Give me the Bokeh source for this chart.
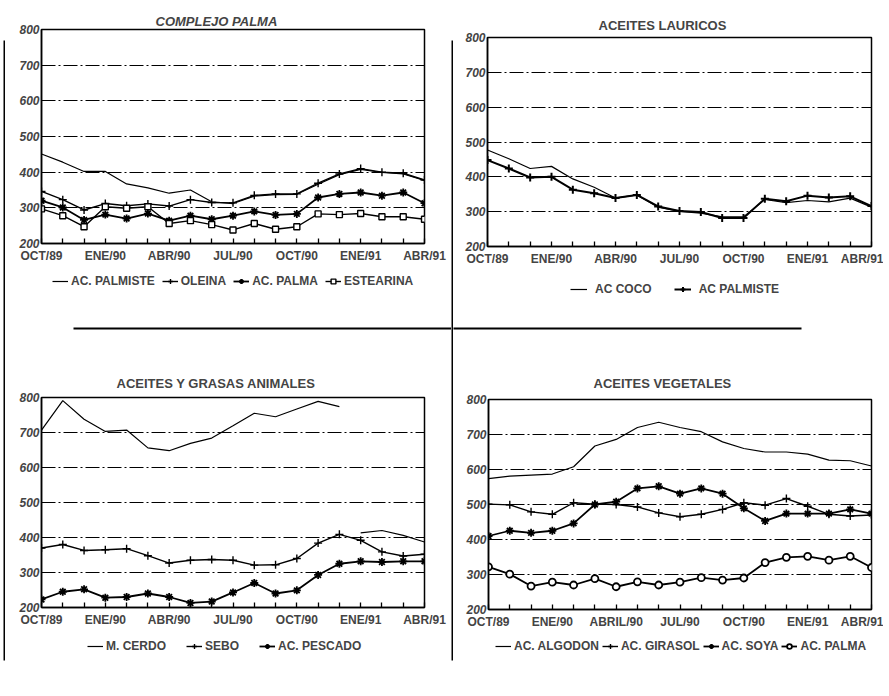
from bokeh.plotting import figure
from bokeh.models import FixedTicker, Legend, LegendItem
from bokeh.layouts import row, column
from bokeh.embed import file_html
from bokeh.resources import INLINE

# ---------------- data ----------------
months = ["OCT/89", "NOV/89", "DIC/89", "ENE/90", "FEB/90", "MAR/90", "ABR/90",
          "MAY/90", "JUN/90", "JUL/90", "AGO/90", "SEP/90", "OCT/90", "NOV/90",
          "DIC/90", "ENE/91", "FEB/91", "MAR/91", "ABR/91"]
tick_months = ["OCT/89", "ENE/90", "ABR/90", "JUL/90", "OCT/90", "ENE/91", "ABR/91"]
tick_labels_std = ["OCT/89", "ENE/90", "ABR/90", "JUL/90", "OCT/90", "ENE/91", "ABR/91"]
tick_labels_veg = ["OCT/89", "ENE/90", "ABRIL/90", "JUL/90", "OCT/90", "ENE/91", "ABR/91"]
y_ticks = [200, 300, 400, 500, 600, 700, 800]

# COMPLEJO PALMA
cp_palmiste = [451, 428, 402, 402, 367, 356, 341, 350, 317, 312, 333, 337, 338, 366, 393, 408, 399, 395, 377]
cp_oleina = [346, 323, 294, 312, 306, 311, 305, 323, 315, 314, 335, 339, 339, 369, 395, 410, 400, 397, 378]
cp_palma = [320, 301, 266, 281, 270, 284, 264, 278, 268, 278, 290, 280, 283, 329, 339, 343, 334, 343, 313]
cp_estearina = [297, 278, 247, 303, 299, 303, 256, 264, 253, 238, 256, 240, 247, 283, 281, 284, 275, 275, 268]

# ACEITES LAURICOS
la_coco = [477, 452, 424, 430, 394, 370, 339, 348, 313, 301, 296, 285, 285, 335, 326, 332, 328, 339, 313]
la_palmiste = [448, 424, 398, 400, 363, 353, 339, 348, 315, 302, 299, 282, 282, 337, 330, 346, 341, 344, 316]

# ACEITES Y GRASAS ANIMALES
an_cerdo = [707, 791, 738, 703, 707, 656, 648, 669, 684, 719, 755, 745, 767, 789, 774, 413, 420, 406, 387]
an_cerdo_break = "ENE/91"
an_sebo = [370, 380, 363, 365, 368, 348, 327, 335, 337, 335, 321, 322, 340, 384, 409, 392, 359, 347, 352]
an_pescado = [223, 245, 252, 228, 230, 240, 230, 213, 217, 243, 270, 240, 249, 293, 325, 332, 330, 332, 332]

# ACEITES VEGETALES
ve_algodon = [574, 581, 584, 587, 608, 667, 686, 720, 735, 720, 708, 679, 660, 650, 650, 644, 627, 625, 610]
ve_girasol = [501, 499, 479, 472, 505, 501, 500, 493, 476, 465, 472, 486, 505, 498, 517, 495, 472, 467, 470]
ve_soya = [410, 425, 419, 425, 446, 500, 508, 546, 552, 531, 546, 531, 489, 453, 474, 474, 474, 486, 474]
ve_palma = [322, 301, 267, 278, 270, 288, 265, 279, 270, 278, 291, 284, 290, 334, 349, 352, 341, 352, 320]

# ---------------- styling ----------------
FONT = "Liberation Sans"
STYLES = {
    "plain": dict(marker=None, lw=1.2),
    "cross": dict(marker="cross", lw=1.4, size=8, fill="black"),
    "star": dict(marker="asterisk", lw=1.8, size=8, fill="black"),
    "square": dict(marker="square", lw=1.4, size=6, fill="white"),
    "circle": dict(marker="circle", lw=1.8, size=7, fill="white"),
    "crossbold": dict(marker="cross", lw=2.0, size=8, fill="black"),
}

x = list(range(len(months)))


def bare(width, height, bl=0, br=0, bt=0, bb=0, frame="white", border="white"):
    f = figure(width=width, height=height, x_range=(0, 1), y_range=(0, 1),
               output_backend="svg", toolbar_location=None,
               x_axis_type=None, y_axis_type=None,
               min_border_left=bl, min_border_right=br,
               min_border_top=bt, min_border_bottom=bb,
               background_fill_color=frame, border_fill_color=border,
               outline_line_color=None)
    f.grid.visible = False
    return f


def make_panel(title, italic, series, tick_labels, width, height, bl, br, bt, bb,
               title_off, title_standoff, leg_height, leg_loc, leg_spacing, leg_glyph, leg_standoff):
    p = figure(width=width, height=height, x_range=(0, len(months) - 1), y_range=(200, 800),
               output_backend="svg", toolbar_location=None,
               min_border_left=bl, min_border_right=br, min_border_top=bt, min_border_bottom=bb,
               background_fill_color="white", border_fill_color="white",
               outline_line_color="black", outline_line_width=1.5)
    p.title.text = title
    p.title.align = "left"
    p.title.offset = title_off
    p.title.standoff = title_standoff
    p.title.text_font = FONT
    p.title.text_font_size = "13px"
    p.title.text_font_style = "bold italic" if italic else "bold"

    overrides = {}
    for i, m in enumerate(months):
        overrides[i] = tick_labels[tick_months.index(m)] if m in tick_months else ""
    xa = p.xaxis[0]
    xa.ticker = FixedTicker(ticks=x)
    xa.major_label_overrides = overrides
    xa.minor_tick_line_color = None
    xa.major_tick_in = 5
    xa.major_tick_out = 0
    xa.major_tick_line_width = 1.3
    xa.axis_line_width = 1.5
    xa.major_label_standoff = 5
    xa.major_label_text_font = FONT
    xa.major_label_text_font_size = "12px"
    xa.major_label_text_font_style = "bold"

    ya = p.yaxis[0]
    ya.ticker = FixedTicker(ticks=y_ticks)
    ya.minor_tick_line_color = None
    ya.major_tick_in = 0
    ya.major_tick_out = 0
    ya.axis_line_width = 1.5
    ya.major_label_standoff = 2
    ya.major_label_text_font = FONT
    ya.major_label_text_font_size = "12px"
    ya.major_label_text_font_style = "bold italic"

    p.xgrid.visible = False
    p.ygrid.ticker = FixedTicker(ticks=y_ticks)
    p.ygrid.grid_line_color = "black"
    p.ygrid.grid_line_dash = "14 3 2 3"
    p.ygrid.grid_line_width = 1

    # legend strip under the panel; its key renderers carry the same series
    # (they fall outside the strip's 0..1 ranges, so only the legend keys show)
    lg = bare(width, leg_height, bl=bl, br=br)
    items = []
    for name, vals, style, brk in series:
        st = STYLES[style]
        if brk is None:
            segs = [(0, len(vals))]
        else:
            k = months.index(brk)
            segs = [(0, k), (k, len(vals))]
        for a, b in segs:
            p.line(x[a:b], vals[a:b], line_color="black", line_width=st["lw"])
        if st["marker"]:
            p.scatter(x, vals, marker=st["marker"], size=st["size"],
                      line_color="black", fill_color=st["fill"], line_width=st["lw"])
        keys = [lg.line(x, vals, line_color="black", line_width=st["lw"])]
        if st["marker"]:
            keys.append(lg.scatter(x, vals, marker=st["marker"], size=st["size"],
                                   line_color="black", fill_color=st["fill"],
                                   line_width=st["lw"]))
        items.append(LegendItem(label=name, renderers=keys))

    leg = Legend(items=items, orientation="horizontal", location=leg_loc,
                 border_line_color=None, background_fill_alpha=0,
                 label_text_font=FONT, label_text_font_size="12px",
                 label_text_font_style="bold", glyph_width=leg_glyph, glyph_height=12,
                 label_height=12, label_standoff=leg_standoff, spacing=leg_spacing,
                 padding=0, margin=0)
    lg.add_layout(leg)
    return column(p, lg)


q1 = make_panel("COMPLEJO PALMA", True,
                [("AC. PALMISTE", cp_palmiste, "plain", None),
                 ("OLEINA", cp_oleina, "cross", None),
                 ("AC. PALMA", cp_palma, "star", None),
                 ("ESTEARINA", cp_estearina, "square", None)],
                tick_labels_std, 446, 268, 36, 27, 29, 25,
                114, 2, 50, (11, 30), 7, 16, 3)
q2 = make_panel("ACEITES LAURICOS", False,
                [("AC COCO", la_coco, "plain", None),
                 ("AC PALMISTE", la_palmiste, "crossbold", None)],
                tick_labels_std, 430, 268, 34, 12, 37, 21,
                111, 10, 50, (83, 22), 22, 17, 8)
q3 = make_panel("ACEITES Y GRASAS ANIMALES", False,
                [("M. CERDO", an_cerdo, "plain", an_cerdo_break),
                 ("SEBO", an_sebo, "cross", None),
                 ("AC. PESCADO", an_pescado, "star", None)],
                tick_labels_std, 446, 295, 36, 27, 59, 26,
                75, 14, 57, (46, 37), 20, 16, 3)
q4 = make_panel("ACEITES VEGETALES", False,
                [("AC. ALGODON", ve_algodon, "plain", None),
                 ("AC. GIRASOL", ve_girasol, "cross", None),
                 ("AC. SOYA", ve_soya, "star", None),
                 ("AC. PALMA", ve_palma, "circle", None)],
                tick_labels_veg, 430, 295, 35, 12, 61, 24,
                105, 18, 57, (7, 37), 3, 16, 3)

# page rules (left page edge, centre divider, horizontal divider)
border = bare(5, 690, bl=3, frame="black")
vdiv = bare(2, 690, bt=40, bb=30, frame="black")
hmid1 = bare(446, 20, bl=68, bt=9, bb=9, frame="black")
hmid2 = bare(430, 20, br=82, bt=9, bb=9, frame="black")

layout = row(border,
             column(q1, hmid1, q3),
             vdiv,
             column(q2, hmid2, q4))

open("out.html", "w").write(file_html(layout, INLINE))
